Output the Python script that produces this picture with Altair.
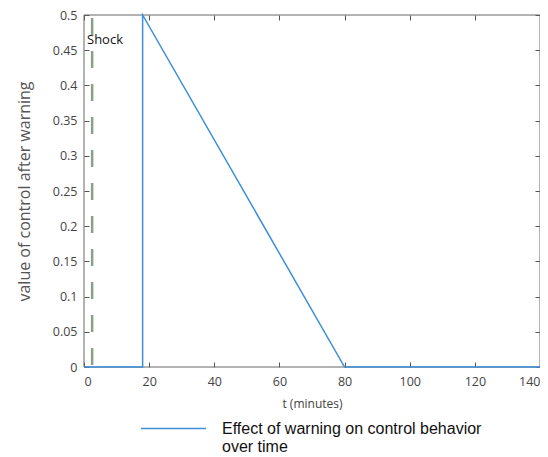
import altair as alt
import pandas as pd

t_minutes = [0, 18, 18, 80, 140]
control_value = [0, 0, 0.5, 0, 0]
series_name = "Effect of warning on control behavior over time"
shock_t = [2.5]
shock_label = ["Shock"]
x_ticks = [0, 20, 40, 60, 80, 100, 120, 140]
y_ticks = [0, 0.05, 0.1, 0.15, 0.2, 0.25, 0.3, 0.35, 0.4, 0.45, 0.5]
x_range = [0, 140]
y_range = [0, 0.5]

df = pd.DataFrame({"t": t_minutes, "v": control_value, "series": [series_name] * len(t_minutes)})
shock_df = pd.DataFrame({"t": shock_t, "label": shock_label, "top": [0.5], "bottom": [0.0], "ty": [0.465], "tx": [0.0]})
frame_df = pd.DataFrame({"x0": [x_range[0]], "x1": [x_range[1]], "y0": [y_range[0]], "y1": [y_range[1]]})

label_font = "Open Sans"
grey = "#444444"
box = "#666666"

xscale = alt.Scale(domain=x_range, nice=False)
yscale = alt.Scale(domain=y_range, nice=False)

frame = alt.Chart(frame_df).mark_rect(filled=False, stroke=box, strokeWidth=1, fillOpacity=0).encode(
    x=alt.X("x0:Q", scale=xscale, axis=None),
    x2="x1:Q",
    y=alt.Y("y0:Q", scale=yscale, axis=None),
    y2="y1:Q",
)

line = alt.Chart(df).mark_line(strokeWidth=1.5).encode(
    x=alt.X("t:Q", scale=xscale, axis=alt.Axis(
        orient="bottom", values=x_ticks, title="t (minutes)", domain=False, grid=False,
        ticks=True, tickSize=5, offset=-5, tickColor="#555555", labelPadding=8,
        labelFont=label_font, labelFontSize=12.5, labelColor=grey,
        titleFont=label_font, titleFontSize=12, titleColor=grey, titleFontWeight="normal", titlePadding=11)),
    y=alt.Y("v:Q", scale=yscale, axis=alt.Axis(
        orient="left", values=y_ticks, format="~g", title="value of control after warning",
        domain=False, grid=False, ticks=True, tickSize=5, offset=-5, tickColor="#555555", labelPadding=7,
        labelFont=label_font, labelFontSize=12.5, labelColor=grey,
        titleFont=label_font, titleFontSize=16, titleColor="#555555", titleFontWeight="normal", titlePadding=20)),
    color=alt.Color("series:N", scale=alt.Scale(range=["#3d8fd9"]), legend=alt.Legend(
        title=None, orient="none", legendX=56, legendY=380, symbolType="stroke",
        symbolSize=4225, symbolStrokeWidth=1.5, labelFont="Liberation Sans", labelFontSize=16,
        labelColor="#111111", labelOffset=15, labelLimit=400,
        labelExpr="['Effect of warning on control behavior', 'over time']")),
)

ticks_far = alt.Chart(df).mark_line(opacity=0).encode(
    x=alt.X("t:Q", scale=xscale, axis=alt.Axis(
        orient="top", values=x_ticks, title=None, labels=False, domain=False, grid=False,
        tickSize=5, offset=-5, tickColor="#555555")),
    y=alt.Y("v:Q", scale=yscale, axis=alt.Axis(
        orient="right", values=y_ticks, title=None, labels=False, domain=False, grid=False,
        tickSize=5, offset=-5, tickColor="#555555")),
)

shock = alt.Chart(shock_df).mark_rule(
    color="#8aa08a", strokeWidth=2.5, strokeDash=[17, 16], strokeDashOffset=30
).encode(
    x=alt.X("t:Q", scale=xscale, axis=None),
    y=alt.Y("top:Q", scale=yscale, axis=None),
    y2="bottom:Q",
)

shock_text = alt.Chart(shock_df).mark_text(
    align="left", baseline="middle", dx=3, fontSize=13, font=label_font, color="#111111"
).encode(
    x=alt.X("tx:Q", scale=xscale, axis=None),
    y=alt.Y("ty:Q", scale=yscale, axis=None),
    text="label:N",
)

chart = alt.layer(frame, shock, line, ticks_far, shock_text).resolve_axis(
    x="independent", y="independent"
).properties(
    width=456, height=352,
    autosize=alt.AutoSizeParams(type="none"),
    padding={"left": 76, "top": 7, "right": 0, "bottom": 90},
).configure_view(stroke=None)

chart.save("out.html", embed_options={"renderer": "svg", "actions": False})
